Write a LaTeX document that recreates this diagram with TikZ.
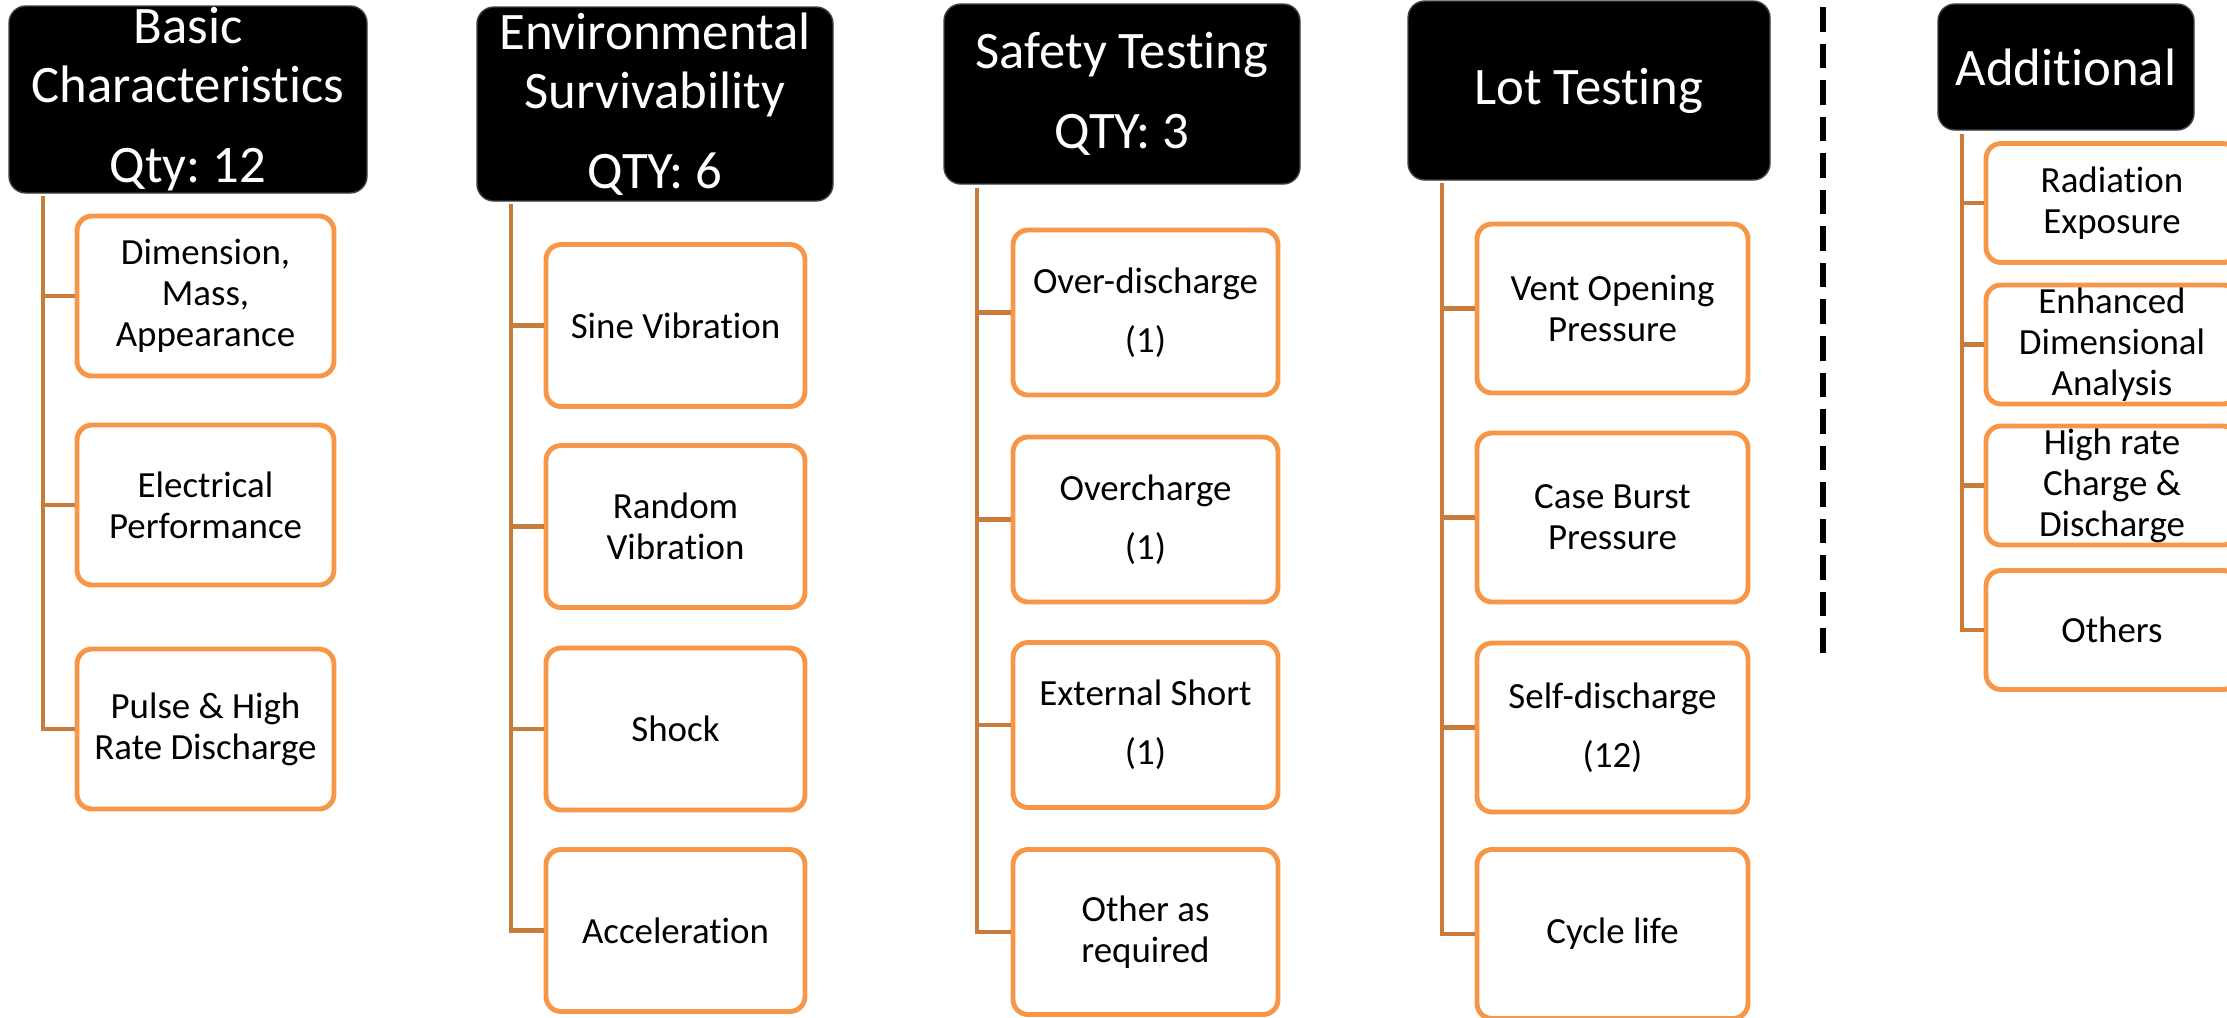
\documentclass[tikz,border=0pt]{standalone}
\usepackage{fontspec}
\setmainfont{Carlito}[Ligatures={NoCommon,NoContextual}]
\usepackage{tikz}
\usetikzlibrary{calc}
\definecolor{boxOrange}{HTML}{F79646}
\definecolor{linkBrown}{HTML}{C77C3B}
\frenchspacing

\tikzset{
  head/.style n args={2}{fill=black,draw=black!75,line width=0.4pt,rounded corners=4.8pt,
    text=white,align=center,inner sep=0pt,minimum width=#1,minimum height=#2,
    font=\fontsize{15}{16.8}\selectfont},
  item/.style n args={2}{draw=boxOrange,fill=white,line width=1.4pt,rounded corners=4.3pt,
    align=center,inner sep=0pt,minimum width=#1,minimum height=#2},
  link/.style={draw=linkBrown,line width=1.4pt},
}

\begin{document}
\begin{tikzpicture}[x=0.1mm,y=-0.1mm,font=\fontsize{10.5}{11.7}\selectfont]
\useasboundingbox (0,0) rectangle (2227,1017);
\clip (0,0) rectangle (2227,1017);

% column headers
\node[head={3.58cm}{1.87cm}] (basic) at (188,99.5) {Basic\\Characteristics\\[6pt]Qty: 12};
\node[head={3.56cm}{1.94cm}] (env) at (655,104) {Environmental\\Survivability\\[6pt]QTY: 6};
\node[head={3.56cm}{1.80cm}] (safety) at (1122,94) {Safety Testing\\[6pt]QTY: 3};
\node[head={3.62cm}{1.79cm}] (lot) at (1589,90.5) {Lot Testing};
\node[head={2.56cm}{1.26cm}] (extra) at (2066,67) {Additional};

% trunk tops, just under each header
\coordinate (basicT) at (43,196);
\coordinate (envT) at (511,204);
\coordinate (safetyT) at (977,188);
\coordinate (lotT) at (1442,183);
\coordinate (extraT) at (1962,134);

% test boxes
\foreach \n/\y/\txt in {1/296/{Dimension,\\Mass,\\Appearance},
    2/505/{Electrical\\Performance},3/729/{Pulse \& High\\Rate Discharge}}
  \node[item={2.57cm}{1.60cm}] (basic-\n) at (205.5,\y) {\txt};
\foreach \n/\y/\txt in {1/325.5/{Sine Vibration},2/526.5/{Random\\Vibration},
    3/729/{Shock},4/930.5/{Acceleration}}
  \node[item={2.59cm}{1.62cm}] (env-\n) at (675.5,\y) {\txt};
\foreach \n/\y/\txt in {1/312.5/{Over-discharge\\[5pt](1)},2/519.5/{Overcharge\\[5pt](1)},
    3/725/{External Short\\[5pt](1)},4/932/{Other as\\required}}
  \node[item={2.65cm}{1.65cm}] (safety-\n) at (1145.5,\y) {\txt};
\foreach \n/\y/\txt in {1/308.5/{Vent Opening\\Pressure},2/517.5/{Case Burst\\Pressure},
    3/727.5/{Self-discharge\\[5pt](12)},4/934/{Cycle life}}
  \node[item={2.71cm}{1.69cm}] (lot-\n) at (1612.5,\y) {\txt};
\foreach \n/\y/\txt in {1/203/{Radiation\\Exposure},2/344.5/{Enhanced\\Dimensional\\Analysis},
    3/485.5/{High rate\\Charge \&\\Discharge},4/630/{Others}}
  \node[item={2.52cm}{1.19cm}] (extra-\n) at (2112,\y) {\txt};

% trunks and branches
\foreach \col/\last in {basic/3,env/4,safety/4,lot/4,extra/4} {
  \draw[link] (\col T) |- (\col-\last.west);
  \foreach \n in {1,...,\last}
    \draw[link] (\col-\n.west) -- (\col-\n.west -| \col T);
}

% separator before the additional tests
\coordinate (sepTop) at (1823,7);
\coordinate (sepEnd) at (1823,663);
\draw[line width=1.7pt,dash pattern=on 7pt off 3.4pt] (sepTop) -- (sepEnd);
\end{tikzpicture}
\end{document}
